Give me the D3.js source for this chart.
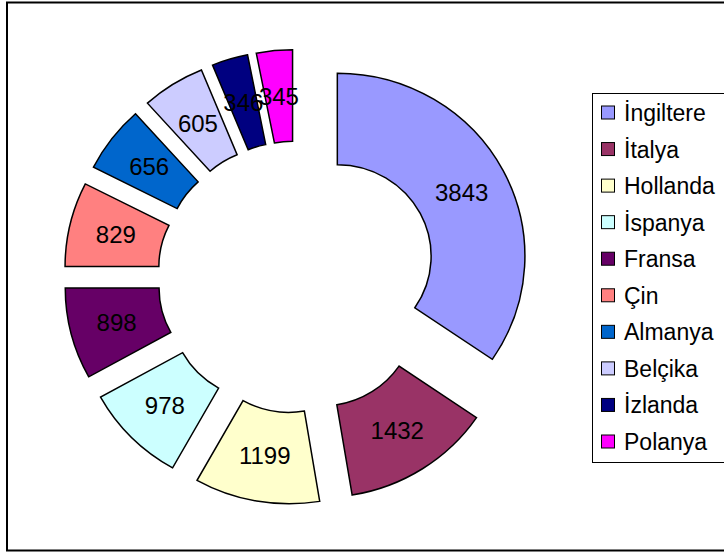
<!DOCTYPE html>
<html>
<head>
<meta charset="utf-8">
<script src="https://cdn.jsdelivr.net/npm/d3@7"></script>
<style>
  html, body { margin: 0; padding: 0; background: #fff; }
  svg { display: block; }
  text { font-family: "Liberation Sans", Arial, sans-serif; }
</style>
</head>
<body>
<svg id="chart" width="724" height="554"></svg>
<script>
const categories = ["İngiltere", "İtalya", "Hollanda", "İspanya", "Fransa", "Çin", "Almanya", "Belçika", "İzlanda", "Polanya"];
const values = [3843, 1432, 1199, 978, 898, 829, 656, 605, 346, 345];
const colors = ["#9999FF", "#993366", "#FFFFCC", "#CCFFFF", "#660066", "#FF8080", "#0066CC", "#CCCCFF", "#000080", "#FF00FF"];

const svg = d3.select("#chart");

// outer frame
svg.append("rect")
  .attr("x", 7).attr("y", 2.5)
  .attr("width", 740).attr("height", 548)
  .attr("fill", "#fff")
  .attr("stroke", "#000")
  .attr("stroke-width", 2);

const cx = 297, cy = 277;
const R = 183, r = 91.5;
const sx = 1.025;      // slight horizontal stretch of the plot
const explode = 44.5;

const data = categories.map((c, i) => ({ name: c, value: values[i], color: colors[i] }));
const pie = d3.pie().value(d => d.value).sort(null);
const arcs = pie(data);
const arc = d3.arc().innerRadius(r).outerRadius(R);

const g = svg.append("g").attr("transform", `translate(${cx},${cy})`);

arcs.forEach(a => {
  const mid = (a.startAngle + a.endAngle) / 2;
  const ox = explode * Math.sin(mid) * sx;
  const oy = -explode * Math.cos(mid);
  g.append("path")
    .attr("d", arc(a))
    .attr("transform", `translate(${ox},${oy}) scale(${sx},1)`)
    .attr("fill", a.data.color)
    .attr("stroke", "#000")
    .attr("stroke-width", 1.5)
    .attr("vector-effect", "non-scaling-stroke");
});

arcs.forEach(a => {
  const mid = (a.startAngle + a.endAngle) / 2;
  const ox = explode * Math.sin(mid) * sx;
  const oy = -explode * Math.cos(mid);
  const c = arc.centroid(a);
  g.append("text")
    .attr("x", ox + c[0] * sx)
    .attr("y", oy + c[1])
    .attr("text-anchor", "middle")
    .attr("dominant-baseline", "central")
    .attr("font-size", 24)
    .attr("fill", "#000")
    .text(a.data.value);
});

// legend
const lg = svg.append("g");
lg.append("rect")
  .attr("x", 592.5).attr("y", 93.5)
  .attr("width", 160).attr("height", 369)
  .attr("fill", "#fff")
  .attr("stroke", "#000")
  .attr("stroke-width", 1);

const rowY = d3.scaleLinear().domain([0, categories.length - 1]).range([113, 442]);

data.forEach((d, i) => {
  const y = rowY(i);
  lg.append("rect")
    .attr("x", 601.5).attr("y", y - 7)
    .attr("width", 13).attr("height", 13)
    .attr("fill", d.color)
    .attr("stroke", "#000")
    .attr("stroke-width", 1);
  lg.append("text")
    .attr("x", 624)
    .attr("y", y)
    .attr("dominant-baseline", "central")
    .attr("font-size", 23)
    .attr("fill", "#000")
    .text(d.name);
});
</script>
</body>
</html>
